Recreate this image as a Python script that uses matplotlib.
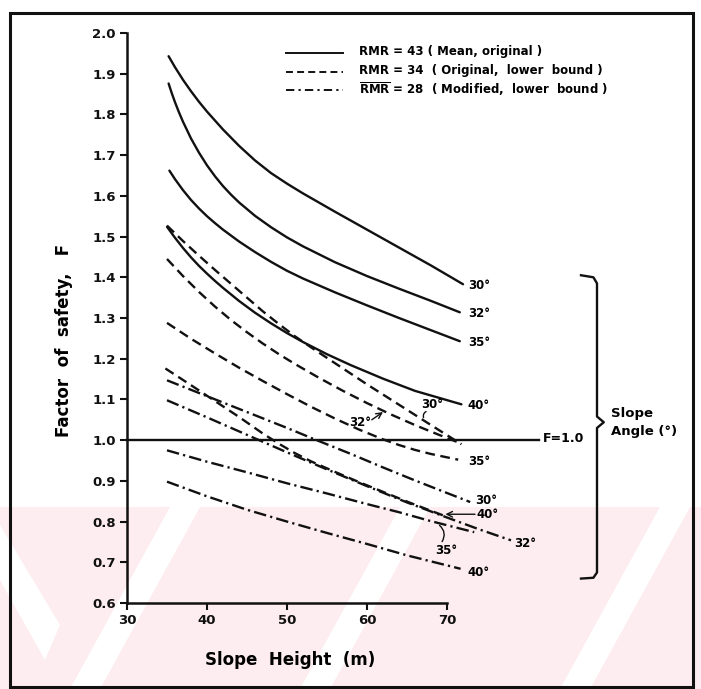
import matplotlib
matplotlib.use("Agg")
import matplotlib.pyplot as plt
from matplotlib.patches import Rectangle, Polygon
import numpy as np

plt.rcParams["font.family"] = ["DejaVu Sans"]
plt.rcParams["font.weight"] = "bold"
plt.rcParams["axes.labelweight"] = "bold"
plt.rcParams["lines.scale_dashes"] = False

# RMR = 43 (mean, original) - solid
rmr43_h = {
    "30°": [35.2, 36, 37, 38, 39, 40, 42, 44, 46, 48, 50, 52, 56, 60, 64, 68, 72],
    "32°": [35.2, 35.6, 36, 36.5, 37, 38, 39, 40, 41, 42, 43, 44, 46, 48, 50, 52, 56, 60, 64, 68, 71.6],
    "35°": [35.3, 36, 37, 38, 39, 40, 41, 42, 44, 46, 48, 50, 52, 56, 60, 64, 68, 71.6],
    "40°": [35, 36, 37, 38, 39, 40, 41, 42, 44, 46, 48, 50, 52, 55, 58, 62, 66, 71.8],
}
rmr43_f = {
    "30°": [1.943, 1.916, 1.885, 1.857, 1.831, 1.807, 1.763, 1.723, 1.687, 1.656, 1.630,
            1.606, 1.561, 1.517, 1.473, 1.429, 1.383],
    "32°": [1.876, 1.852, 1.830, 1.805, 1.782, 1.741, 1.706, 1.675, 1.648, 1.624, 1.603,
            1.584, 1.551, 1.523, 1.498, 1.476, 1.437, 1.403, 1.372, 1.342, 1.314],
    "35°": [1.662, 1.641, 1.614, 1.590, 1.569, 1.550, 1.533, 1.517, 1.488, 1.462, 1.438,
            1.416, 1.397, 1.363, 1.331, 1.300, 1.270, 1.243],
    "40°": [1.524, 1.497, 1.472, 1.449, 1.428, 1.409, 1.391, 1.374, 1.342, 1.313, 1.287,
            1.263, 1.241, 1.211, 1.184, 1.151, 1.121, 1.088],
}

# RMR = 34 (original, lower bound) - dashed
rmr34_h = {
    "30°": [35, 37, 39, 41, 43, 45, 47, 49, 51, 53, 56, 60, 64, 68, 71.8],
    "32°": [35, 37, 39, 41, 43, 45, 47, 49, 51, 54, 57, 60, 63, 66, 69, 71.6],
    "35°": [35, 38, 41, 44, 47, 50, 53, 56, 59, 62, 64, 66, 68, 71.4],
    "40°": [34.8, 38, 41, 44, 47, 49, 51, 53, 56, 59, 62, 65.4, 69.8],
}
rmr34_f = {
    "30°": [1.527, 1.489, 1.453, 1.418, 1.384, 1.350, 1.316, 1.285, 1.255, 1.228, 1.189,
            1.137, 1.087, 1.037, 0.990],
    "32°": [1.445, 1.403, 1.364, 1.328, 1.295, 1.265, 1.237, 1.211, 1.187, 1.153, 1.121,
            1.091, 1.063, 1.037, 1.013, 0.993],
    "35°": [1.288, 1.249, 1.213, 1.178, 1.145, 1.113, 1.082, 1.053, 1.026, 1.002, 0.988,
            0.976, 0.966, 0.952],
    "40°": [1.176, 1.135, 1.096, 1.057, 1.016, 0.991, 0.968, 0.948, 0.922, 0.897, 0.873,
            0.846, 0.813],
}

# RMR = 28 (modified, lower bound) - dash-dot
rmr28_h = {
    "30°": [35, 40, 45, 50, 53.7, 58, 62, 66, 69.5, 72.9],
    "32°": [35, 40, 45, 50, 55, 60, 65, 70, 74, 78],
    "35°": [35, 40, 45, 50, 55, 60, 64, 68, 73.4],
    "40°": [35, 40, 45, 50, 55, 60, 65, 71.7],
}
rmr28_f = {
    "30°": [1.147, 1.108, 1.069, 1.030, 1.0, 0.966, 0.933, 0.901, 0.874, 0.848],
    "32°": [1.098, 1.056, 1.013, 0.970, 0.928, 0.887, 0.847, 0.810, 0.781, 0.754],
    "35°": [0.975, 0.947, 0.921, 0.894, 0.869, 0.843, 0.823, 0.801, 0.774],
    "40°": [0.898, 0.862, 0.829, 0.800, 0.772, 0.745, 0.717, 0.684],
}

legend_text = [
    "RMR = 43 ( Mean, original )",
    "RMR = 34  ( Original,  lower  bound )",
    r"$\overline{\mathrm{RMR}}$ = 28  ( Modified,  lower  bound )",
]

DASH = (0, (7, 4))
DASHDOT = (0, (9, 3, 1.6, 3))
LW = 1.7
ink = "#111111"

fig = plt.figure(figsize=(7.01, 6.89), dpi=100)

# faint watermark band at the bottom
fig.patches.append(Rectangle((0, 0), 1, 182 / 689, transform=fig.transFigure,
                             facecolor="#fdedf0", edgecolor="none", zorder=-3))
for xb in [70, 300, 560]:
    pts = [(xb, 689), (xb + 30, 689), (xb + 130, 507), (xb + 100, 507)]
    fig.patches.append(Polygon([(px / 701, (689 - py) / 689) for px, py in pts],
                               closed=True, transform=fig.transFigure,
                               facecolor="white", edgecolor="none", zorder=-2))
pts = [(0, 525), (0, 580), (45, 660), (60, 625)]
fig.patches.append(Polygon([(px / 701, (689 - py) / 689) for px, py in pts],
                           closed=True, transform=fig.transFigure,
                           facecolor="white", edgecolor="none", zorder=-2))

# border around the figure
fig.patches.append(Rectangle((10 / 701, 2 / 689), 683 / 701, 674 / 689,
                             transform=fig.transFigure, fill=False,
                             edgecolor=ink, linewidth=2.2, zorder=5))

ax = fig.add_axes([127 / 701, 86 / 689, 560 / 701, 570 / 689])
ax.set_zorder(1)
ax.patch.set_alpha(0)
ax.set_xlim(30, 100)
ax.set_ylim(0.6, 2.0)

for k in rmr43_h:
    ax.plot(rmr43_h[k], rmr43_f[k], color=ink, lw=LW, solid_capstyle="round")
for k in rmr34_h:
    ax.plot(rmr34_h[k], rmr34_f[k], color=ink, lw=LW, linestyle=DASH)
for k in rmr28_h:
    ax.plot(rmr28_h[k], rmr28_f[k], color=ink, lw=LW, linestyle=DASHDOT, clip_on=False)

# F = 1.0 line
ax.plot([30, 81.5], [1.0, 1.0], color=ink, lw=LW, clip_on=False)
ax.text(82, 1.003, "F=1.0", fontsize=9, va="center", ha="left")

# curve labels
fs = 8.5
for k in rmr43_h:
    ax.text(72.6, rmr43_f[k][-1] - 0.004, k, fontsize=fs, va="center", ha="left")
ax.text(72.6, 0.948, "35°", fontsize=fs, va="center", ha="left")
ax.text(73.5, 0.852, "30°", fontsize=fs, va="center", ha="left")
ax.text(73.7, 0.817, "40°", fontsize=fs, va="center", ha="left")
ax.text(78.4, 0.745, "32°", fontsize=fs, va="center", ha="left")
ax.text(72.6, 0.676, "40°", fontsize=fs, va="center", ha="left")
ax.text(68.5, 0.728, "35°", fontsize=fs, va="center", ha="left")
ax.text(57.8, 1.043, "32°", fontsize=fs, va="center", ha="left")
ax.text(66.8, 1.088, "30°", fontsize=fs, va="center", ha="left")

arrow = dict(arrowstyle="->", lw=1.0, color=ink, shrinkA=0, shrinkB=0)
ax.annotate("", xy=(62.0, 1.069), xytext=(60.6, 1.050), arrowprops=arrow)
ax.annotate("", xy=(69.8, 0.818), xytext=(73.5, 0.818), arrowprops=arrow)
ax.annotate("", xy=(67.2, 1.049), xytext=(67.7, 1.073),
            arrowprops=dict(arrowstyle="-", lw=1.0, color=ink,
                            connectionstyle="arc3,rad=0.6"))
ax.annotate("", xy=(68.8, 0.795), xytext=(69.2, 0.745),
            arrowprops=dict(arrowstyle="-", lw=1.0, color=ink,
                            connectionstyle="arc3,rad=0.5"))

# brace for slope angle
bx = [86.75, 88.3, 88.75, 88.75, 89.6, 88.75, 88.75, 88.3, 86.75]
by = [1.405, 1.40, 1.385, 1.058, 1.044, 1.030, 0.675, 0.662, 0.660]
ax.plot(bx, by, color=ink, lw=LW, clip_on=False)
ax.text(90.5, 1.044, "Slope\nAngle (°)", fontsize=9.5, va="center", ha="left",
        linespacing=1.5)

# legend drawn by hand
leg_y = [1.951, 1.904, 1.860]
styles = ["-", (0, (5, 3)), (0, (6, 3, 1.6, 3))]
for yy, st, txt in zip(leg_y, styles, legend_text):
    ax.plot([49.9, 57.0], [yy, yy], color=ink, lw=1.4, linestyle=st)
    ax.text(59.0, yy + 0.003, txt, fontsize=8.5, va="center", ha="left")

# axes styling
for s in ["top", "right"]:
    ax.spines[s].set_visible(False)
ax.spines["left"].set_bounds(0.6, 2.0)
ax.spines["bottom"].set_bounds(30, 70)
for s in ["left", "bottom"]:
    ax.spines[s].set_linewidth(1.8)
    ax.spines[s].set_color(ink)

yt = np.round(np.arange(0.6, 2.001, 0.1), 1)
ax.set_yticks(yt)
ax.set_yticklabels([f"{v:.1f}" for v in yt])
ax.set_xticks([30, 40, 50, 60, 70])
ax.tick_params(direction="out", length=5, width=1.5, labelsize=9.5, pad=3, colors=ink)

ax.set_xlabel("Slope  Height  (m)", fontsize=12, fontweight="bold")
ax.xaxis.set_label_coords((50.4 - 30) / 70, -0.085)
ax.set_ylabel("Factor  of  safety,   F", fontsize=12, fontweight="bold")
ax.yaxis.set_label_coords(-0.096, 0.46)

fig.savefig("out.png", dpi=100)
